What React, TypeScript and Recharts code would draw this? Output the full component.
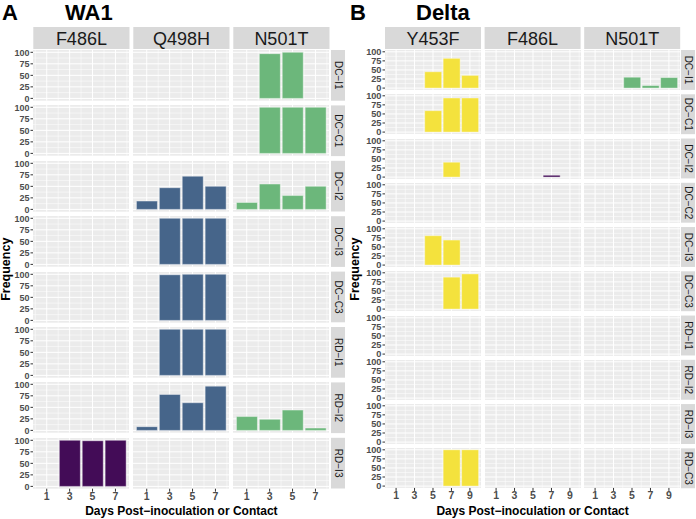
import { BarChart, Bar, XAxis, YAxis, CartesianGrid } from "recharts";

const FONT = '"Liberation Sans", Arial, Helvetica, sans-serif';

// mutation colours (viridis-like)
const MUT_COLORS: Record<string, string> = {
  F486L: "#430C57",
  Q498H: "#46658A",
  N501T: "#6CB77B",
  Y453F: "#F4E23D",
};

// ---- WA1 ----
const WA1_DAYS = [1, 3, 5, 7];
const WA1_ANIMALS = ["DC−I1", "DC−C1", "DC−I2", "DC−I3", "DC−C3", "RD−I1", "RD−I2", "RD−I3"];
const WA1_MUTATIONS = ["F486L", "Q498H", "N501T"];
// rows = animals, columns = days; null = not detected
const WA1_F486L = [
  [null, null, null, null],
  [null, null, null, null],
  [null, null, null, null],
  [null, null, null, null],
  [null, null, null, null],
  [null, null, null, null],
  [null, null, null, null],
  [null, 100, 99, 100],
];
const WA1_Q498H = [
  [null, null, null, null],
  [null, null, null, null],
  [18, 47, 72, 50],
  [null, 100, 100, 100],
  [null, 99, 100, 100],
  [null, 100, 100, 100],
  [8, 78, 60, 96],
  [null, null, null, null],
];
const WA1_N501T = [
  [null, 97, 100, null],
  [null, 100, 100, 100],
  [15, 55, 30, 50],
  [null, null, null, null],
  [null, null, null, null],
  [null, null, null, null],
  [30, 24, 44, 5],
  [null, null, null, null],
];

// ---- Delta ----
const DELTA_DAYS = [1, 3, 5, 7, 9];
const DELTA_ANIMALS = ["DC−I1", "DC−C1", "DC−I2", "DC−C2", "DC−I3", "DC−C3", "RD−I1", "RD−I2", "RD−I3", "RD−C3"];
const DELTA_MUTATIONS = ["Y453F", "F486L", "N501T"];
const DELTA_Y453F = [
  [null, null, 45, 82, 35],
  [null, null, 59, 94, 94],
  [null, null, null, 41, null],
  [null, null, null, null, null],
  [null, null, 81, 69, null],
  [null, null, null, 88, 97],
  [null, null, null, null, null],
  [null, null, null, null, null],
  [null, null, null, null, null],
  [null, null, null, 100, 100],
];
const DELTA_F486L = [
  [null, null, null, null, null],
  [null, null, null, null, null],
  [null, null, null, 5, null],
  [null, null, null, null, null],
  [null, null, null, null, null],
  [null, null, null, null, null],
  [null, null, null, null, null],
  [null, null, null, null, null],
  [null, null, null, null, null],
  [null, null, null, null, null],
];
const DELTA_N501T = [
  [null, null, 30, 7, 29],
  [null, null, null, null, null],
  [null, null, null, null, null],
  [null, null, null, null, null],
  [null, null, null, null, null],
  [null, null, null, null, null],
  [null, null, null, null, null],
  [null, null, null, null, null],
  [null, null, null, null, null],
  [null, null, null, null, null],
];

const Y_MAJOR = [0, 25, 50, 75, 100];
const Y_MINOR = [12.5, 37.5, 62.5, 87.5];

interface Section {
  letter: string;
  title: string;
  letterX: number;
  titleX: number;
  days: number[];
  animals: string[];
  mutations: string[];
  values: (number | null)[][][];
  x0: number;
  colPitch: number;
  panelW: number;
  y0: number;
  rowPitch: number;
  rowH: number;
  stripX: number;
  yFont: number;
  yTitleX: number;
}

const SECTIONS: Section[] = [
  {
    letter: "A", title: "WA1", letterX: 2, titleX: 65,
    days: WA1_DAYS, animals: WA1_ANIMALS, mutations: WA1_MUTATIONS,
    values: [WA1_F486L, WA1_Q498H, WA1_N501T],
    x0: 33.3, colPitch: 100, panelW: 96.2,
    y0: 50, rowPitch: 55.4, rowH: 50.7, stripX: 331, yFont: 9, yTitleX: 9.5,
  },
  {
    letter: "B", title: "Delta", letterX: 350, titleX: 416,
    days: DELTA_DAYS, animals: DELTA_ANIMALS, mutations: DELTA_MUTATIONS,
    values: [DELTA_Y453F, DELTA_F486L, DELTA_N501T],
    x0: 385, colPitch: 99.6, panelW: 96,
    y0: 50, rowPitch: 44.26, rowH: 39.9, stripX: 681, yFont: 9.2, yTitleX: 359,
  },
];

const X_EXPAND = 0.2; // days of padding on each side of the bar range
const EDGE = 6; // extra room above/below each panel so tick labels are not clipped

function YTick(props: any) {
  const { x, y, payload, size } = props;
  return (
    <text
      x={x}
      y={y}
      dy="0.36em"
      textAnchor="end"
      fontSize={size}
      fontWeight="bold"
      fill="#4D4D4D"
      fontFamily={FONT}
    >
      {payload.value}
    </text>
  );
}

function Panel({ sec, r, c }: { sec: Section; r: number; c: number }) {
  const firstCol = c === 0;
  const lastRow = r === sec.animals.length - 1;
  const yW = firstCol ? 26 : 0;
  const xH = lastRow ? 20 : 0;
  const bottomM = lastRow ? 0 : EDGE;
  const left = sec.x0 + c * sec.colPitch - yW;
  const top = sec.y0 + r * sec.rowPitch - EDGE;
  const width = sec.panelW + yW;
  const height = sec.rowH + xH + EDGE + bottomM;

  const vals = sec.values[c][r];
  const data = sec.days.map((d, i) => ({ day: String(d), d, v: vals[i] }));
  const xLo = -X_EXPAND;
  const xHi = sec.days.length * 2 + X_EXPAND;
  const pad = (sec.panelW * X_EXPAND) / (xHi - xLo);
  const xMinor: number[] = [];
  for (let k = 0; k <= sec.days.length * 2; k += 2) xMinor.push(k);
  const color = MUT_COLORS[sec.mutations[c]];

  return (
    <div style={{ position: "absolute", left, top, width, height }}>
      <BarChart
        width={width}
        height={height}
        data={data}
        margin={{ top: EDGE, right: 0, bottom: bottomM, left: 0 }}
        barCategoryGap="5%"
      >
        <CartesianGrid
          xAxisId="g"
          fill="#EBEBEB"
          stroke="#FFFFFF"
          strokeWidth={0.5}
          horizontalValues={Y_MINOR}
          verticalValues={xMinor}
        />
        <CartesianGrid
          xAxisId="g"
          stroke="#FFFFFF"
          strokeWidth={1}
          horizontalValues={Y_MAJOR}
          verticalValues={sec.days}
        />
        <XAxis
          xAxisId="g"
          type="number"
          dataKey="d"
          domain={[xLo, xHi]}
          allowDataOverflow
          hide
        />
        <XAxis
          dataKey="day"
          type="category"
          hide={!lastRow}
          height={xH}
          padding={{ left: pad, right: pad }}
          interval={0}
          tickSize={3}
          tickMargin={1}
          axisLine={false}
          tickLine={{ stroke: "#333333" }}
          tick={{ fontSize: 10.5, fontWeight: "bold", fill: "#4D4D4D", fontFamily: FONT }}
        />
        <YAxis
          type="number"
          domain={[-5, 105]}
          allowDataOverflow
          ticks={Y_MAJOR}
          interval={0}
          hide={!firstCol}
          width={yW}
          tickSize={2.5}
          tickMargin={1}
          axisLine={false}
          tickLine={{ stroke: "#333333" }}
          tick={<YTick size={sec.yFont} />}
        />
        <Bar
          dataKey="v"
          fill={color}
          stroke="#FFFFFF"
          strokeOpacity={0.5}
          strokeWidth={0.8}
          isAnimationActive={false}
        />
      </BarChart>
    </div>
  );
}

function Labels({ sec }: { sec: Section }) {
  const rowsBottom = sec.y0 + (sec.animals.length - 1) * sec.rowPitch + sec.rowH;
  const panelsRight = sec.x0 + 2 * sec.colPitch + sec.panelW;
  const midX = (sec.x0 + panelsRight) / 2;
  const midY = (sec.y0 + rowsBottom) / 2;
  return (
    <g fontFamily={FONT}>
      <text x={sec.letterX} y={20} fontSize={22} fontWeight="bold" fill="#000">{sec.letter}</text>
      <text x={sec.titleX} y={20} fontSize={22} fontWeight="bold" fill="#000">{sec.title}</text>
      {sec.mutations.map((m, c) => {
        const x = sec.x0 + c * sec.colPitch;
        return (
          <g key={m}>
            <rect x={x} y={27} width={sec.panelW} height={22} fill="#D9D9D9" />
            <text x={x + sec.panelW / 2} y={45} fontSize={18} textAnchor="middle" fill="#1A1A1A">{m}</text>
          </g>
        );
      })}
      {sec.animals.map((a, r) => {
        const y = sec.y0 + r * sec.rowPitch;
        const cx = sec.stripX + 7;
        const cy = y + sec.rowH / 2;
        return (
          <g key={a}>
            <rect x={sec.stripX} y={y} width={14} height={sec.rowH} fill="#D9D9D9" />
            <text
              x={cx}
              y={cy}
              fontSize={10}
              textAnchor="middle"
              dy="0.35em"
              fill="#1A1A1A"
              transform={`rotate(90 ${cx} ${cy})`}
            >
              {a}
            </text>
          </g>
        );
      })}
      <text x={midX} y={515.3} fontSize={12} fontWeight="bold" textAnchor="middle" fill="#000">
        Days Post−inoculation or Contact
      </text>
      <text
        x={sec.yTitleX}
        y={midY}
        fontSize={12.5}
        fontWeight="bold"
        textAnchor="middle"
        fill="#000"
        transform={`rotate(-90 ${sec.yTitleX} ${midY})`}
      >
        Frequency
      </text>
    </g>
  );
}

export default function App() {
  return (
    <div style={{ position: "absolute", left: 0, top: 0, width: 696, height: 519, background: "#FFFFFF", overflow: "hidden" }}>
      {SECTIONS.map((sec) =>
        sec.animals.map((_, r) =>
          sec.mutations.map((__, c) => <Panel key={`${sec.letter}-${r}-${c}`} sec={sec} r={r} c={c} />)
        )
      )}
      <svg width={696} height={519} style={{ position: "absolute", left: 0, top: 0, pointerEvents: "none" }}>
        {SECTIONS.map((sec) => <Labels key={sec.letter} sec={sec} />)}
      </svg>
    </div>
  );
}
